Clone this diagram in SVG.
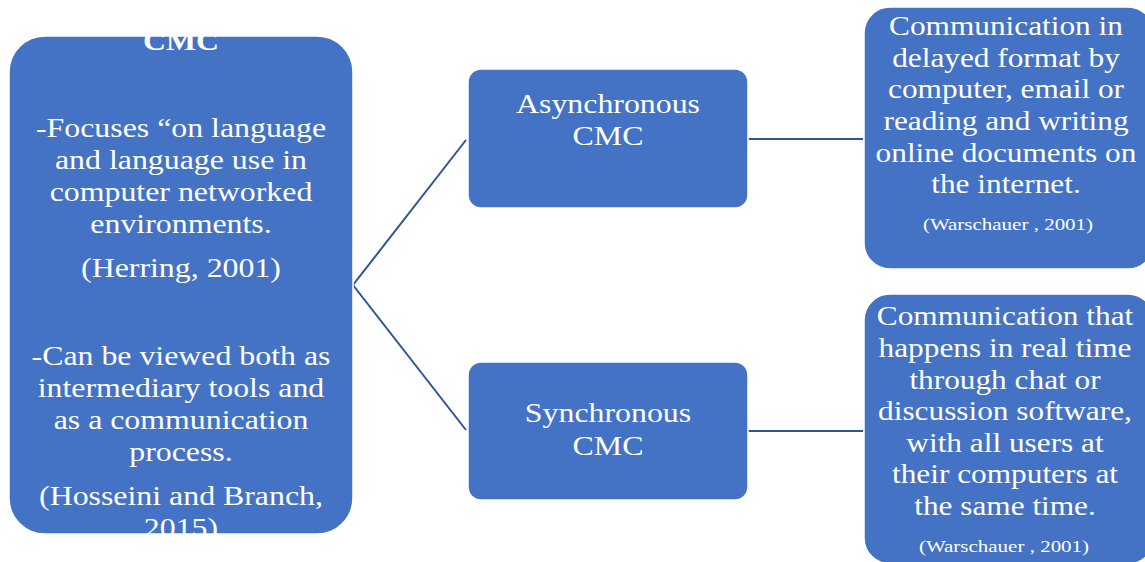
<svg xmlns="http://www.w3.org/2000/svg" width="1145" height="562" viewBox="0 0 1145 562">
  <style>
    .box { fill: #4472C4; stroke: #ffffff; stroke-width: 1.5; }
    .t { font-family: "Liberation Serif", "Times New Roman", serif; fill: #ffffff; text-anchor: middle; }
    .big { font-size: 27px; }
    .small { font-size: 17.5px; }
    .bold { font-weight: bold; }
    .link { stroke: #2F5597; stroke-width: 2; fill: none; }
  </style>
  <defs>
    <clipPath id="clipMain">
      <rect x="9" y="36" width="344" height="498" rx="36" ry="36"/>
    </clipPath>
  </defs>

  <g id="connectors">
    <polyline class="link" points="466,140 353,285 466,430"/>
    <line class="link" x1="748" y1="139" x2="863" y2="139"/>
    <line class="link" x1="748" y1="431" x2="863" y2="431"/>
  </g>

  <g id="node-cmc">
    <rect class="box" x="9" y="36" width="344" height="498" rx="36" ry="36"/>
    <g clip-path="url(#clipMain)">
      <g class="t big" transform="translate(181 0) scale(1.18 1)">
        <text class="bold" x="0" y="50">CMC</text>
        <text x="0" y="137">-Focuses “on language</text>
        <text x="0" y="169">and language use in</text>
        <text x="0" y="201">computer networked</text>
        <text x="0" y="233">environments.</text>
        <text x="0" y="277">(Herring, 2001)</text>
        <text x="0" y="365">-Can be viewed both as</text>
        <text x="0" y="397">intermediary tools and</text>
        <text x="0" y="429">as a communication</text>
        <text x="0" y="461">process.</text>
        <text x="0" y="505">(Hosseini and Branch,</text>
        <text x="0" y="537">2015)</text>
      </g>
    </g>
  </g>

  <g id="node-async">
    <rect class="box" x="468" y="69" width="280" height="139" rx="13" ry="13"/>
    <g class="t big" transform="translate(608 0) scale(1.18 1)">
      <text x="0" y="113">Asynchronous</text>
      <text x="0" y="145">CMC</text>
    </g>
  </g>

  <g id="node-sync">
    <rect class="box" x="468" y="362" width="280" height="138" rx="13" ry="13"/>
    <g class="t big" transform="translate(608 0) scale(1.18 1)">
      <text x="0" y="422">Synchronous</text>
      <text x="0" y="455">CMC</text>
    </g>
  </g>

  <g id="node-async-desc">
    <rect class="box" x="864" y="7" width="290" height="262" rx="26" ry="26"/>
    <g class="t big" transform="translate(1006 0) scale(1.16 1)">
      <text x="0" y="35">Communication in</text>
      <text x="0" y="67">delayed format by</text>
      <text x="0" y="98">computer, email or</text>
      <text x="0" y="130">reading and writing</text>
      <text x="0" y="162">online documents on</text>
      <text x="0" y="193">the internet.</text>
    </g>
    <g class="t small" transform="translate(1008 0) scale(1.2 1)">
      <text x="0" y="230">(Warschauer , 2001)</text>
    </g>
  </g>

  <g id="node-sync-desc">
    <rect class="box" x="864" y="294" width="290" height="270" rx="26" ry="26"/>
    <g class="t big" transform="translate(1005 0) scale(1.16 1)">
      <text x="0" y="325">Communication that</text>
      <text x="0" y="357">happens in real time</text>
      <text x="0" y="389">through chat or</text>
      <text x="0" y="420">discussion software,</text>
      <text x="0" y="452">with all users at</text>
      <text x="0" y="483">their computers at</text>
      <text x="0" y="515">the same time.</text>
    </g>
    <g class="t small" transform="translate(1004 0) scale(1.2 1)">
      <text x="0" y="552">(Warschauer , 2001)</text>
    </g>
  </g>
</svg>
